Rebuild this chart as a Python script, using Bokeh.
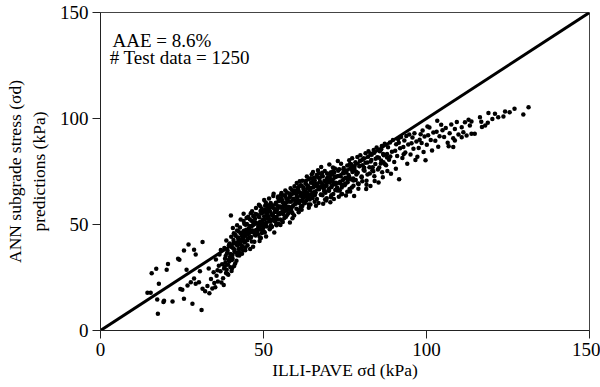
from bokeh.plotting import figure
from bokeh.models import Label, FixedTicker, Range1d
from bokeh.embed import file_html
from bokeh.resources import INLINE

# ---- data (kPa) ----
ticks = [0, 50, 100, 150]
line_x = [0, 150]
line_y = [0, 150]

sparse_x = [31.3, 27.0, 25.6, 28.7, 29.2, 23.8, 24.2, 20.7, 17.1, 20.3, 15.7, 26.4, 17.9,
            14.4, 15.4, 17.4, 19.3, 19.5, 22.1, 25.6, 25.1, 24.5, 27.7, 26.7, 28.7, 29.2,
            30.2, 31.3, 28.2, 31.0, 17.6, 30.5, 40.0]
sparse_y = [41.7, 40.6, 37.7, 38.1, 35.8, 33.8, 33.4, 31.4, 29.1, 28.6, 27.0, 28.6, 22.0,
            17.8, 17.8, 14.6, 13.4, 14.0, 13.7, 15.0, 19.2, 19.6, 22.8, 21.2, 24.5, 22.0,
            22.8, 19.7, 12.6, 9.7, 7.9, 28.0, 54.2]

band_x = [
    32.1, 32.8, 33.4, 33.9, 34.3, 34.7, 33.2, 34.9,
    35.2, 35.6, 36.0, 36.3, 36.8, 37.1, 35.4, 36.5, 37.3, 35.9, 36.9,
    37.6, 37.9, 38.2, 38.5, 38.8, 39.1, 39.4, 39.7, 38.0, 38.6, 39.2, 39.9, 37.8, 38.3,
    40.2, 40.5, 40.8, 41.1, 41.4, 41.7, 42.0, 42.3, 40.6, 41.0, 41.6, 42.2, 40.3, 41.9, 42.4, 40.9,
    42.6, 42.9, 43.2, 43.5, 43.8, 44.1, 44.4, 44.7, 43.0, 43.6, 44.2, 44.8, 42.8, 43.4, 44.0, 44.5, 43.9,
    45.1, 45.4, 45.7, 46.0, 46.3, 46.6, 46.9, 47.2, 45.3, 45.9, 46.5, 47.1, 45.6, 46.2, 46.8, 47.4, 46.1, 47.0,
    47.6, 47.9, 48.2, 48.5, 48.8, 49.1, 49.4, 49.7, 47.7, 48.3, 48.9, 49.5, 48.0, 48.6, 49.2, 49.8, 48.4, 49.0,
    50.1, 50.4, 50.7, 51.0, 51.3, 51.6, 51.9, 52.2, 50.2, 50.8, 51.4, 52.0, 50.5, 51.1, 51.7, 52.3, 50.9, 51.8, 52.4,
    52.6, 52.9, 53.2, 53.5, 53.8, 54.1, 54.4, 54.7, 52.7, 53.3, 53.9, 54.5, 53.0, 53.6, 54.2, 54.8, 53.1, 54.0,
    55.1, 55.4, 55.7, 56.0, 56.3, 56.6, 56.9, 57.2, 55.2, 55.8, 56.4, 57.0, 55.5, 56.1, 56.7, 57.3, 55.9, 56.8,
    57.6, 57.9, 58.2, 58.5, 58.8, 59.1, 59.4, 59.7, 57.7, 58.3, 58.9, 59.5, 58.0, 58.6, 59.2, 59.8, 58.1,
    60.1, 60.4, 60.7, 61.0, 61.3, 61.6, 61.9, 62.2, 60.2, 60.8, 61.4, 62.0, 60.5, 61.1, 61.7, 62.3, 60.9,
    62.6, 62.9, 63.2, 63.5, 63.8, 64.1, 64.4, 64.7, 62.7, 63.3, 63.9, 64.5, 63.0, 63.6, 64.2, 64.8, 63.4,
    65.1, 65.4, 65.7, 66.0, 66.3, 66.6, 66.9, 67.2, 65.2, 65.8, 66.4, 67.0, 65.5, 66.1, 66.7, 67.3,
    67.6, 67.9, 68.2, 68.5, 68.8, 69.1, 69.4, 69.7, 67.7, 68.3, 68.9, 69.5, 68.0, 68.6, 69.2,
    70.1, 70.4, 70.7, 71.0, 71.3, 71.6, 71.9, 72.2, 70.2, 70.8, 71.4, 72.0, 70.5, 71.1,
    72.6, 72.9, 73.2, 73.5, 73.8, 74.1, 74.4, 74.7, 72.8, 73.4, 74.0, 74.6, 73.1,
    75.1, 75.4, 75.7, 76.0, 76.3, 76.6, 76.9, 77.2, 75.3, 75.9, 76.5, 77.1,
    77.6, 77.9, 78.2, 78.5, 78.8, 79.1, 79.4, 79.7, 77.8, 78.4, 79.0, 79.6,
    80.1, 80.4, 80.7, 81.0, 81.3, 81.6, 81.9, 82.2, 80.3, 80.9, 81.5, 82.1,
    82.6, 82.9, 83.2, 83.5, 83.8, 84.1, 84.4, 84.7, 82.8, 83.4, 84.0,
    85.1, 85.4, 85.7, 86.0, 86.3, 86.6, 86.9, 87.2, 85.3, 86.1, 86.8,
    87.6, 87.9, 88.2, 88.5, 88.8, 89.1, 89.4, 89.7, 88.0, 88.9,
    90.1, 90.4, 90.7, 91.0, 91.3, 91.6, 91.9, 92.2, 90.6, 91.5,
    92.6, 92.9, 93.2, 93.5, 93.8, 94.1, 94.4, 94.7, 93.0,
    95.1, 95.4, 95.7, 96.0, 96.3, 96.6, 96.9, 97.2,
    97.6, 97.9, 98.2, 98.5, 98.8, 99.1, 99.4, 99.7,
    100.1, 100.5, 100.9, 101.3, 101.7, 102.1, 100.3,
    102.7, 103.1, 103.6, 104.0, 104.5, 104.9, 103.3,
]
band_y = [
    18.5, 21.0, 17.6, 24.3, 19.8, 27.5, 29.2, 22.4,
    20.4, 25.8, 23.1, 30.6, 27.9, 22.7, 33.5, 35.8, 31.2, 28.4, 38.0,
    24.6, 29.3, 33.8, 27.1, 36.4, 31.0, 40.2, 34.7, 38.9, 42.5, 26.3, 29.8, 21.5, 31.9,
    28.1, 35.6, 41.3, 38.2, 44.7, 32.9, 40.1, 46.8, 48.3, 30.4, 36.7, 43.5, 33.2, 49.6, 38.5, 45.9,
    35.4, 41.8, 38.6, 46.2, 43.1, 50.3, 37.9, 47.5, 52.4, 39.7, 44.8, 53.1, 48.6, 36.2, 42.0, 49.9, 55.1,
    40.2, 45.6, 49.3, 43.7, 51.8, 47.2, 54.0, 41.9, 53.6, 38.4, 56.2, 50.1, 47.8, 44.1, 39.5, 52.7, 55.3, 46.3,
    44.8, 50.6, 47.3, 53.9, 42.2, 56.4, 49.7, 52.1, 57.8, 45.4, 51.2, 46.0, 54.7, 59.3, 43.6, 55.8, 48.9, 58.6,
    46.7, 52.3, 55.9, 49.1, 58.4, 53.6, 47.8, 60.2, 61.5, 44.3, 56.8, 51.4, 58.9, 54.5, 62.3, 49.7, 50.8, 57.6, 55.0,
    48.9, 54.2, 57.7, 51.5, 60.3, 55.8, 62.6, 50.4, 59.1, 46.2, 53.0, 58.6, 63.4, 56.9, 52.3, 61.2, 64.5, 49.6,
    52.4, 57.9, 61.3, 55.0, 63.8, 59.2, 53.7, 65.1, 49.8, 60.6, 56.4, 62.2, 64.9, 58.3, 66.0, 54.6, 51.2, 60.0,
    55.3, 60.8, 63.5, 57.6, 66.2, 61.9, 54.2, 64.7, 58.4, 67.1, 52.9, 59.6, 62.8, 56.1, 65.8, 61.0, 50.9,
    57.4, 62.9, 66.3, 60.2, 68.5, 64.1, 58.7, 67.3, 69.6, 55.8, 63.6, 61.1, 65.2, 70.4, 56.9, 64.8, 67.9,
    60.1, 65.4, 68.8, 62.7, 71.3, 66.5, 59.4, 69.9, 63.8, 72.6, 57.9, 67.2, 70.5, 64.3, 61.8, 73.7, 67.0,
    62.5, 67.8, 70.9, 65.1, 73.4, 68.6, 60.2, 71.7, 74.8, 63.9, 69.3, 66.7, 72.1, 58.9, 75.6, 70.0,
    64.0, 69.5, 72.8, 66.7, 75.2, 70.3, 62.4, 73.9, 77.1, 59.8, 68.1, 71.5, 74.4, 65.6, 61.3,
    65.9, 71.2, 74.6, 68.4, 76.9, 62.0, 72.5, 69.7, 78.3, 63.8, 75.1, 66.3, 60.5, 73.6,
    67.5, 72.9, 76.1, 70.2, 78.6, 64.4, 74.3, 71.6, 79.9, 66.0, 68.8, 76.7, 63.1,
    69.2, 74.5, 77.8, 72.0, 80.3, 65.6, 75.9, 81.2, 63.7, 71.1, 78.5, 67.4,
    70.8, 76.2, 79.4, 73.6, 81.8, 66.9, 77.5, 82.7, 63.5, 74.9, 69.3, 80.1,
    72.6, 78.0, 81.2, 75.3, 83.6, 68.7, 79.2, 84.5, 70.4, 76.8, 66.8, 82.0,
    74.1, 79.7, 82.9, 77.0, 85.2, 70.5, 81.0, 86.3, 68.2, 75.6, 83.8,
    76.0, 81.5, 84.6, 78.8, 87.0, 72.3, 82.7, 88.1, 69.8, 85.5, 79.4,
    77.9, 83.2, 86.4, 80.6, 88.7, 73.9, 84.3, 89.8, 75.2, 82.1,
    79.5, 84.8, 87.9, 82.3, 90.2, 71.4, 86.0, 91.3, 76.3, 88.6,
    81.4, 86.5, 89.6, 84.0, 91.7, 78.6, 87.7, 92.4, 83.1,
    83.0, 88.3, 91.0, 85.7, 93.1, 80.4, 89.2, 82.0,
    86.1, 90.0, 92.6, 88.4, 94.3, 84.2, 91.5, 80.3,
    87.6, 92.1, 95.8, 89.9, 84.9, 93.4, 96.2,
    89.5, 93.8, 86.7, 91.6, 97.0, 94.4, 98.9,
]

core_x = [
    38.1, 38.4, 38.7, 39.0, 39.3, 39.6, 39.9, 40.2, 40.5, 40.8, 41.1, 41.4, 41.7, 42.0, 42.3, 42.6, 42.9,
    38.9, 39.5, 40.1, 40.7, 41.3, 41.9, 42.5, 40.4,
    43.1, 43.4, 43.7, 44.0, 44.3, 44.6, 44.9, 45.2, 45.5, 45.8, 46.1, 46.4, 46.7, 47.0, 47.3, 47.6, 47.9,
    43.9, 44.5, 45.1, 45.7, 46.3, 46.9, 47.5, 45.0,
    48.1, 48.4, 48.7, 49.0, 49.3, 49.6, 49.9, 50.2, 50.5, 50.8, 51.1, 51.4, 51.7, 52.0, 52.3, 52.6, 52.9,
    48.9, 49.5, 50.1, 50.7, 51.3, 51.9, 52.5, 50.4,
    53.1, 53.4, 53.7, 54.0, 54.3, 54.6, 54.9, 55.2, 55.5, 55.8, 56.1, 56.4, 56.7, 57.0, 57.3, 57.6, 57.9,
    53.9, 54.5, 55.1, 55.7, 56.3, 56.9, 57.5, 55.4,
    58.1, 58.4, 58.7, 59.0, 59.3, 59.6, 59.9, 60.2, 60.5, 60.8, 61.1, 61.4, 61.7, 62.0, 62.3, 62.6, 62.9,
    58.9, 59.5, 60.1, 60.7, 61.3, 61.9, 62.5, 60.4,
    63.1, 63.4, 63.7, 64.0, 64.3, 64.6, 64.9, 65.2, 65.5, 65.8, 66.1, 66.4, 66.7, 67.0, 67.3, 67.6, 67.9,
    63.9, 64.5, 65.1, 65.7, 66.3, 66.9, 67.5, 65.4,
    68.1, 68.4, 68.7, 69.0, 69.3, 69.6, 69.9, 70.2, 70.5, 70.8, 71.1, 71.4, 71.7, 72.0, 72.3, 72.6, 72.9,
    68.9, 69.5, 70.1, 70.7, 71.3, 71.9, 72.5, 70.4,
    73.1, 73.4, 73.7, 74.0, 74.3, 74.6, 74.9, 75.2, 75.5, 75.8, 76.1, 76.4, 76.7, 77.0, 77.3, 77.6, 77.9,
    73.9, 74.5, 75.1, 75.7, 76.3, 76.9, 77.5,
    78.3, 78.9, 79.5, 80.1, 80.7, 81.3, 81.9, 82.5, 83.1, 83.7, 84.3, 84.9, 85.5, 86.1, 86.7, 87.3, 87.9,
    79.2, 80.4, 81.6, 82.8, 84.0, 85.2, 86.4,
]
core_y = [
    30.2, 35.1, 28.7, 37.6, 33.2, 41.0, 36.1, 39.4, 34.0, 42.7, 37.3, 45.1, 40.6, 35.5, 43.9, 41.2, 46.0,
    26.8, 32.5, 44.2, 38.8, 31.6, 47.2, 36.9, 29.5,
    40.3, 44.6, 37.8, 47.0, 41.5, 45.9, 50.2, 43.4, 48.1, 52.5, 46.7, 42.0, 49.6, 53.8, 45.2, 50.9, 47.4,
    51.6, 39.2, 46.5, 43.8, 49.0, 51.1, 55.0, 42.6,
    45.9, 50.1, 53.4, 47.6, 55.2, 51.0, 48.3, 53.9, 57.0, 50.7, 55.6, 59.1, 52.6, 56.3, 48.7, 58.2, 54.1,
    44.0, 57.3, 49.8, 60.4, 53.0, 58.9, 51.9, 46.2,
    52.0, 55.9, 59.6, 53.5, 57.3, 61.0, 54.8, 58.5, 62.4, 56.2, 60.1, 53.1, 63.5, 58.0, 61.7, 57.2, 64.6,
    50.2, 63.2, 55.4, 51.9, 59.0, 56.6, 60.9, 64.0,
    57.0, 60.7, 64.3, 58.6, 62.1, 66.0, 59.8, 63.4, 67.2, 61.3, 65.1, 58.2, 68.4, 62.6, 66.5, 60.0, 69.3,
    55.3, 68.0, 61.0, 56.8, 64.8, 70.6, 63.9, 65.7,
    61.2, 64.8, 68.2, 62.5, 66.0, 69.7, 63.6, 67.4, 71.0, 65.3, 68.9, 62.0, 72.3, 66.6, 70.2, 64.1, 73.1,
    59.4, 71.8, 65.0, 60.7, 68.0, 74.2, 67.7, 69.5,
    63.8, 67.3, 70.6, 65.0, 68.5, 72.0, 66.2, 69.8, 73.3, 67.6, 71.2, 64.4, 74.5, 68.9, 72.6, 66.0, 75.3,
    61.8, 74.0, 67.0, 62.9, 70.1, 76.4, 69.4, 71.7,
    66.1, 69.6, 72.8, 67.4, 70.9, 74.2, 68.5, 72.1, 75.5, 69.9, 73.4, 66.8, 76.6, 71.2, 74.8, 68.3, 77.4,
    64.3, 76.0, 69.2, 65.4, 72.5, 78.4, 71.7,
    71.0, 74.4, 77.6, 72.3, 75.8, 79.1, 73.6, 77.0, 80.4, 75.1, 78.5, 81.7, 76.9, 80.2, 83.3, 78.4, 81.6,
    69.1, 80.7, 70.6, 83.5, 72.8, 85.0, 74.7,
]

tail_x = [105.4, 105.9, 106.5, 107.1, 107.6, 108.2, 108.7, 109.3, 109.8, 106.8, 108.2, 108.7,
          110.8, 111.3, 111.8, 112.3, 113.3, 113.8, 113.8, 114.8, 116.4, 116.8, 117.0, 110.8, 112.9,
          118.0, 118.8, 119.0, 121.0, 122.0, 123.6, 124.1, 127.0, 129.7, 131.3, 120.2, 125.5]
tail_y = [91.3, 95.5, 88.6, 93.0, 97.2, 90.7, 95.0, 98.3, 92.4, 86.9, 86.5, 89.6,
          95.9, 93.5, 98.2, 92.0, 96.7, 98.6, 92.8, 92.8, 100.6, 98.5, 96.0, 91.2, 99.4,
          96.7, 98.0, 102.6, 102.2, 100.6, 101.0, 103.3, 104.6, 101.9, 105.3, 99.8, 102.9]

FONT = "Liberation Serif"

p = figure(width=600, height=387, output_backend="svg", toolbar_location=None,
           x_range=Range1d(0, 150), y_range=Range1d(0, 150),
           min_border_left=100, min_border_right=11, min_border_top=12, min_border_bottom=57)
p.background_fill_color = "white"
p.border_fill_color = "white"
p.outline_line_color = "#444444"
p.outline_line_width = 1
p.xgrid.visible = False
p.ygrid.visible = False

for ax in (p.xaxis[0], p.yaxis[0]):
    ax.ticker = FixedTicker(ticks=ticks)
    ax.minor_tick_line_color = None
    ax.major_tick_in = 0
    ax.major_tick_out = 8
    ax.axis_line_color = "#222222"
    ax.major_tick_line_color = "#222222"
    ax.major_label_text_font = FONT
    ax.major_label_text_font_size = "19px"
    ax.major_label_text_color = "black"
    ax.axis_label_text_font = FONT
    ax.axis_label_text_font_size = "17.5px"
    ax.axis_label_text_font_style = "normal"
    ax.axis_label_text_color = "black"

p.xaxis.axis_label = "ILLI-PAVE σd (kPa)"
p.xaxis.major_label_standoff = 4
p.xaxis.axis_label_standoff = 1
p.yaxis.axis_label = "ANN subgrade stress (σd)\npredictions (kPa)"
p.yaxis.major_label_standoff = 4
p.yaxis.axis_label_standoff = 8

p.line(line_x, line_y, line_color="black", line_width=3)
for xs, ys in ((sparse_x, sparse_y), (band_x, band_y), (core_x, core_y), (tail_x, tail_y)):
    p.scatter(xs, ys, marker="circle", size=4.5, fill_color="black", line_color=None)

p.add_layout(Label(x=3.7, y=136.8, text="AAE = 8.6%", text_font=FONT, text_font_size="19px",
                   text_baseline="alphabetic", text_color="black"))
p.add_layout(Label(x=2.8, y=128.8, text="# Test data = 1250", text_font=FONT, text_font_size="19px",
                   text_baseline="alphabetic", text_color="black"))

open("out.html", "w").write(file_html(p, INLINE))
